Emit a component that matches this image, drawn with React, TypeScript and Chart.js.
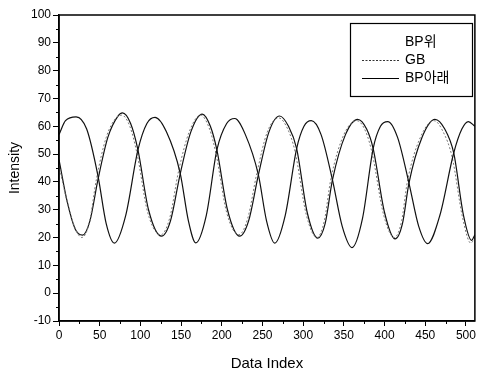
import React, { useEffect, useRef } from "react";
import { Chart, registerables } from "chart.js";

Chart.register(...registerables);

// BP위 (curve A)
const bpUpX = [0, 8, 21, 34, 48, 58, 68, 82, 97, 108, 118, 132, 149, 159, 168, 181, 194, 206, 216, 229, 245, 255, 265, 278, 292, 301, 310, 322, 336, 348, 360, 373, 386, 395, 404, 416, 430, 442, 453, 468, 485, 495, 503, 511];
const bpUpY = [57, 62, 63.4, 59, 42, 25, 18, 28, 51.5, 61, 63.2, 58, 43, 26, 18.1, 28, 51.5, 61, 62.8, 57, 42.5, 26, 18, 28, 52, 60, 62, 57, 40.7, 24, 16.4, 27, 52, 60, 61.7, 56, 39.6, 24, 17.8, 28, 50.4, 59, 61.7, 60];

// GB (dotted)
const gbX = [0, 9, 19, 28, 37, 46, 58, 70, 77, 87, 96, 109, 125, 136, 147, 160, 174, 185, 193, 206, 221, 232, 243, 256, 270, 281, 290, 304, 317, 326, 334, 350, 366, 377, 385, 399, 412, 421, 428, 444, 461, 472, 483, 496, 506, 511];
const gbY = [46, 34, 24, 20, 25, 41, 56, 63, 64, 60, 50, 29, 21, 27, 44, 58, 64, 59, 50, 29, 21, 27, 43, 58, 63, 59, 51, 28, 20, 26, 41, 57, 62, 58, 50, 28, 20, 26, 40, 56, 62, 58, 49, 27, 18, 20];

// BP아래 (curve B)
const bpDownX = [0, 10, 20, 29, 38, 48, 60, 72, 78, 88, 97, 110, 126, 137, 149, 162, 176, 186, 194, 207, 222, 233, 245, 258, 271, 282, 292, 305, 318, 327, 336, 352, 367, 378, 386, 400, 413, 422, 430, 446, 462, 474, 485, 497, 507, 511];
const bpDownY = [48, 33, 23, 20.9, 26, 41, 56, 63.5, 64.8, 61, 51.5, 30, 20.5, 26, 43, 58, 64.4, 60, 51.5, 30, 20.5, 26, 42.5, 58, 63.7, 60, 52, 29, 19.8, 25, 40.7, 57, 62.5, 59, 52, 29, 19.5, 25, 39.6, 56, 62.5, 59, 50.4, 28, 19, 21];

const legendLabels = ["BP위", "GB", "BP아래"];
const xTitle = "Data Index";
const yTitle = "Intensity";

const FONT = "'Liberation Sans', Arial, 'Noto Sans CJK KR', sans-serif";

const toPts = (xs: number[], ys: number[]) => xs.map((x, i) => ({ x, y: ys[i] }));

const framePlugin = {
  id: "frameMinor",
  afterDraw(chart: any) {
    const { ctx, chartArea, scales } = chart;
    const { left, right, top, bottom } = chartArea;
    const xs = scales.x;
    const ys = scales.y;
    ctx.save();
    ctx.strokeStyle = "#000";
    ctx.lineWidth = 1.5;
    ctx.strokeRect(left, top, right - left, bottom - top);
    ctx.lineWidth = 1;
    ctx.beginPath();
    for (let v = 25; v <= 511; v += 50) {
      const px = Math.round(xs.getPixelForValue(v)) + 0.5;
      ctx.moveTo(px, bottom);
      ctx.lineTo(px, bottom + 3);
    }
    for (let v = -5; v <= 100; v += 10) {
      const py = Math.round(ys.getPixelForValue(v)) + 0.5;
      ctx.moveTo(left, py);
      ctx.lineTo(left - 3, py);
    }
    ctx.stroke();

    // legend box
    const bx = 350, by = 23, bw = 122, bh = 73;
    ctx.lineWidth = 1.2;
    ctx.strokeRect(bx + 0.5, by + 0.5, bw, bh);
    ctx.fillStyle = "#000";
    ctx.font = `14px ${FONT}`;
    ctx.textBaseline = "middle";
    ctx.textAlign = "left";
    const rows = [42, 60, 78];
    legendLabels.forEach((t, i) => ctx.fillText(t, 405, rows[i]));
    // GB sample
    ctx.strokeStyle = "#333";
    ctx.lineWidth = 1;
    ctx.setLineDash([2, 1.5]);
    ctx.beginPath();
    ctx.moveTo(362, rows[1] + 0.5);
    ctx.lineTo(399, rows[1] + 0.5);
    ctx.stroke();
    ctx.setLineDash([]);
    ctx.strokeStyle = "#000";
    ctx.beginPath();
    ctx.moveTo(362, rows[2] + 0.5);
    ctx.lineTo(399, rows[2] + 0.5);
    ctx.stroke();
    ctx.restore();
  },
};

export default function App() {
  const ref = useRef<HTMLCanvasElement | null>(null);
  useEffect(() => {
    if (!ref.current) return;
    const chart = new Chart(ref.current, {
      type: "line",
      data: {
        datasets: [
          {
            label: legendLabels[0],
            data: toPts(bpUpX, bpUpY),
            borderColor: "#111",
            borderWidth: 1.2,
            pointRadius: 0,
            cubicInterpolationMode: "monotone",
          },
          {
            label: legendLabels[1],
            data: toPts(gbX, gbY),
            borderColor: "#777",
            borderWidth: 1,
            borderDash: [2, 2],
            pointRadius: 0,
            cubicInterpolationMode: "monotone",
          },
          {
            label: legendLabels[2],
            data: toPts(bpDownX, bpDownY),
            borderColor: "#111",
            borderWidth: 1.2,
            pointRadius: 0,
            cubicInterpolationMode: "monotone",
          },
        ],
      },
      options: {
        responsive: false,
        animation: false,
        layout: { padding: { top: 15, right: 3, left: 0, bottom: 0 } },
        plugins: { legend: { display: false }, tooltip: { enabled: false } },
        scales: {
          x: {
            type: "linear",
            min: 0,
            max: 511,
            afterFit: (s: any) => { s.height = 52; },
            ticks: {
              stepSize: 50,
              includeBounds: false,
              color: "#000",
              font: { family: FONT, size: 12 },
              padding: 2,
              maxRotation: 0,
            },
            grid: { drawOnChartArea: false, drawTicks: true, tickLength: 5, color: "#000" },
            border: { display: true, color: "#000", width: 1.5 },
            title: {
              display: true,
              text: xTitle,
              color: "#000",
              font: { family: FONT, size: 15 },
              padding: { top: 4, bottom: 0 },
            },
          },
          y: {
            min: -10,
            max: 100,
            afterFit: (s: any) => { s.width = 59; },
            ticks: {
              stepSize: 10,
              color: "#000",
              font: { family: FONT, size: 12 },
              padding: 2,
            },
            grid: { drawOnChartArea: false, drawTicks: true, tickLength: 6, color: "#000" },
            border: { display: true, color: "#000", width: 1.5 },
            title: {
              display: true,
              text: yTitle,
              color: "#000",
              font: { family: FONT, size: 14 },
              padding: { top: 7, bottom: 0 },
            },
          },
        },
      },
      plugins: [framePlugin],
    });
    return () => chart.destroy();
  }, []);
  return (
    <div style={{ position: "absolute", left: 0, top: 0, width: 478, height: 373, background: "#fff" }}>
      <canvas ref={ref} width={478} height={373} />
    </div>
  );
}
